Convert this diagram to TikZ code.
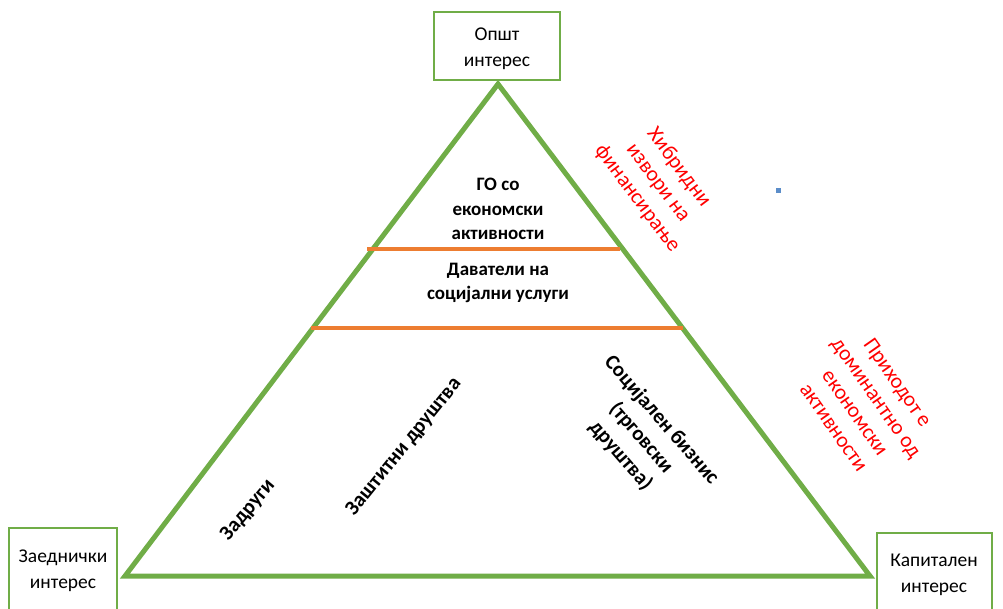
\documentclass[tikz,border=0pt]{standalone}
\usepackage{fontspec}
\setmainfont{Carlito}
\definecolor{pgreen}{HTML}{70AD47}
\definecolor{porange}{HTML}{ED7D31}
\definecolor{pblue}{HTML}{5B8DC9}
\begin{document}
\begin{tikzpicture}[x=1pt,y=-1pt,
  box/.style={draw=pgreen,line width=2.5pt,fill=white},
  boxtext/.style={font=\fontsize{19.5}{26}\selectfont,align=center,text=black},
  intext/.style={font=\fontsize{19}{24.5}\selectfont\bfseries,align=center},
  rottext/.style={font=\fontsize{21}{27}\selectfont\bfseries,align=center},
  redtext/.style={font=\fontsize{21.5}{26}\selectfont,align=center,text=red},
  tri/.style={draw=pgreen,line width=5pt,line join=miter},
  sep/.style={draw=porange,line width=4.5pt}]
\useasboundingbox (0,0) rectangle (1003,609);
\clip (0,0) rectangle (1003,609);
% boxes
\draw[box] (434,12) rectangle (560,80);
\node[boxtext] (top) at (497,49) {Општ\\интерес};
\draw[box] (9,528) rectangle (117,620);
\node[boxtext] (left) at (63,571) {Заеднички\\интерес};
\draw[box] (877,533) rectangle (992,620);
\node[boxtext] (right) at (934,575) {Капитален\\интерес};
% triangle
\coordinate (A) at (498,84);
\coordinate (B) at (125,576);
\coordinate (C) at (870,576);
\draw[tri] (A) -- (B) -- (C) -- cycle;
% separators
\coordinate (s1a) at (367,249);
\coordinate (s1b) at (620,249);
\coordinate (s2a) at (311,328);
\coordinate (s2b) at (683,328);
\draw[sep] (s1a) -- (s1b);
\draw[sep] (s2a) -- (s2b);
% inner texts
\node[intext] (go) at (498,209) {ГО со\\економски\\активности};
\node[intext] (dav) at (498,283) {Даватели на\\социјални услуги};
\node[rottext,rotate=50] (zad) at (248,510) {Задруги};
\node[rottext,rotate=51] (zas) at (404,447) {Заштитни друштва};
\node[rottext,rotate=-49] (soc) at (641,438) {Социјален бизнис\\(трговски\\друштва)};
% red texts
\node[redtext,rotate=-53] (hib) at (658,183) {Хибридни\\извори на\\финансирање};
\node[redtext,rotate=-55] (pri) at (866,405) {Приходот е\\доминантно од\\економски\\активности};
% dot
\fill[pblue] (776,188) rectangle (781,193);
\end{tikzpicture}
\end{document}
